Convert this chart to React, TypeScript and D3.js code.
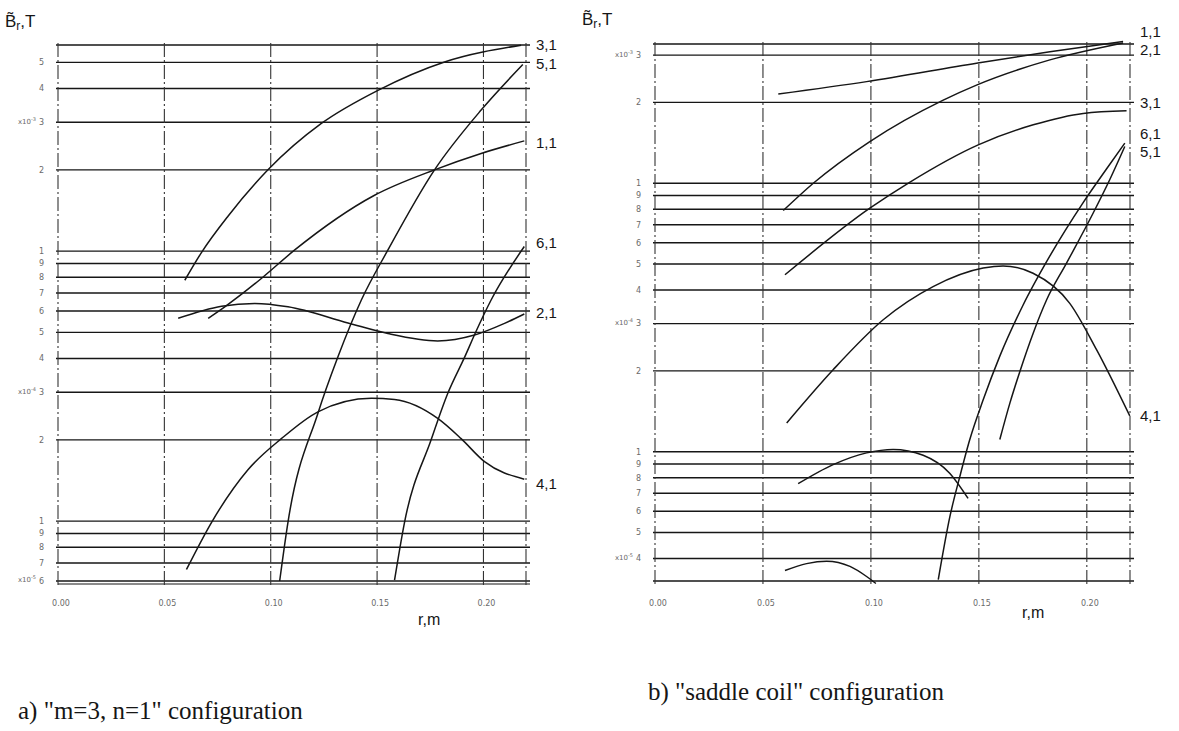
import React from 'react'
import * as d3 from 'd3'

const WIDTH = 1179
const HEIGHT = 731

type Pt = [number, number]

const rTicks = [0, 0.05, 0.1, 0.15, 0.2]
const rTickLabels = ['0.00', '0.05', '0.10', '0.15', '0.20']
const rEdge = 0.22

// ---- panel a) "m=3, n=1" configuration
const aDomain = [6e-5, 5.8e-3]
const aGrid = [5e-3, 4e-3, 3e-3, 2e-3, 1e-3, 9e-4, 8e-4, 7e-4, 6e-4, 5e-4, 4e-4, 3e-4, 2e-4, 1e-4, 9e-5, 8e-5, 7e-5, 6e-5]
const aPrefixed = [3e-3, 3e-4, 6e-5]
const aNames = ['3,1', '5,1', '1,1', '6,1', '2,1', '4,1']
const a31: Pt[] = [[0.0596, 7.8e-4], [0.0675, 9.9e-4], [0.08, 1.35e-3], [0.0987, 2.0e-3], [0.1238, 2.97e-3], [0.1504, 3.94e-3], [0.1817, 5.02e-3], [0.2177, 5.79e-3]]
const a51: Pt[] = [[0.1042, 6.0e-5], [0.1081, 9.9e-5], [0.1222, 2.51e-4], [0.1316, 4.06e-4], [0.1426, 6.59e-4], [0.1551, 1.01e-3], [0.177, 2.0e-3], [0.1989, 3.33e-3], [0.2185, 4.91e-3]]
const a11: Pt[] = [[0.0706, 5.64e-4], [0.0784, 6.22e-4], [0.0956, 7.92e-4], [0.1113, 1.01e-3], [0.1488, 1.61e-3], [0.177, 2.0e-3], [0.1989, 2.3e-3], [0.2192, 2.56e-3]]
const a61: Pt[] = [[0.1582, 6.04e-5], [0.1629, 9.9e-5], [0.1754, 2.0e-4], [0.1832, 2.97e-4], [0.1911, 4.04e-4], [0.1966, 5.06e-4], [0.2036, 6.59e-4], [0.2192, 1.04e-3]]
const a21: Pt[] = [[0.0565, 5.64e-4], [0.0769, 6.25e-4], [0.0925, 6.4e-4], [0.1081, 6.22e-4], [0.1363, 5.42e-4], [0.1551, 4.95e-4], [0.1785, 4.65e-4], [0.1958, 4.89e-4], [0.2099, 5.4e-4], [0.2192, 5.85e-4]]
const a41: Pt[] = [[0.0604, 6.62e-5], [0.0722, 9.9e-5], [0.0893, 1.55e-4], [0.105, 2.02e-4], [0.1222, 2.54e-4], [0.1473, 2.85e-4], [0.1582, 2.82e-4], [0.1785, 2.4e-4], [0.1895, 2.02e-4], [0.2005, 1.66e-4], [0.2192, 1.43e-4]]
const aCurves = [a31, a51, a11, a61, a21, a41]
const aLabelShift = [0, -1, 2, -4, -1, 5]

// ---- panel b) "saddle coil" configuration
const bDomain = [3.3e-5, 3.3e-3]
const bGrid = [3e-3, 2e-3, 1e-3, 9e-4, 8e-4, 7e-4, 6e-4, 5e-4, 4e-4, 3e-4, 2e-4, 1e-4, 9e-5, 8e-5, 7e-5, 6e-5, 5e-5, 4e-5]
const bPrefixed = [3e-3, 3e-4, 4e-5]
const bNames = ['1,1', '2,1', '3,1', '6,1', '5,1', '4,1', '', '']
const b11: Pt[] = [[0.0571, 2.15e-3], [0.098, 2.39e-3], [0.1489, 2.8e-3], [0.1829, 3.09e-3], [0.2168, 3.37e-3]]
const b21: Pt[] = [[0.0594, 7.91e-4], [0.0733, 1.0e-3], [0.0995, 1.43e-3], [0.1335, 2.04e-3], [0.1489, 2.32e-3], [0.1829, 2.88e-3], [0.2168, 3.33e-3]]
const b31: Pt[] = [[0.0602, 4.56e-4], [0.0995, 8.07e-4], [0.1181, 1.01e-3], [0.1497, 1.39e-3], [0.1752, 1.65e-3], [0.1983, 1.82e-3], [0.2184, 1.86e-3]]
const b61: Pt[] = [[0.1312, 3.34e-5], [0.1366, 5.74e-5], [0.1412, 8.09e-5], [0.1458, 1.11e-4], [0.152, 1.56e-4], [0.1597, 2.27e-4], [0.1705, 3.52e-4], [0.1829, 5.36e-4], [0.1983, 8.47e-4], [0.2091, 1.13e-3], [0.2176, 1.41e-3]]
const b51: Pt[] = [[0.1597, 1.11e-4], [0.1644, 1.52e-4], [0.169, 1.99e-4], [0.1752, 2.77e-4], [0.1814, 3.68e-4], [0.1906, 5.04e-4], [0.2029, 7.73e-4], [0.2106, 1.03e-3], [0.2176, 1.37e-3]]
const b41: Pt[] = [[0.061, 1.28e-4], [0.0825, 2.02e-4], [0.1057, 3.1e-4], [0.1288, 4.12e-4], [0.152, 4.83e-4], [0.1612, 4.92e-4], [0.1751, 4.62e-4], [0.1921, 3.57e-4], [0.2045, 2.4e-4], [0.2199, 1.36e-4]]
const bArcA: Pt[] = [[0.0663, 7.6e-5], [0.0825, 8.95e-5], [0.098, 9.9e-5], [0.1103, 1.02e-4], [0.1242, 9.7e-5], [0.1366, 8.3e-5], [0.145, 6.7e-5]]
const bArcB: Pt[] = [[0.0602, 3.61e-5], [0.0702, 3.83e-5], [0.0795, 3.91e-5], [0.0903, 3.74e-5], [0.098, 3.43e-5], [0.1023, 3.23e-5]]
const bCurves = [b11, b21, b31, b61, b51, b41, bArcA, bArcB]
const bLabelShift = [-10, 7, -8, -9, 5, 0, 0, 0]

const INK = '#161616'
const FAINT = '#6a6a6a'

function Panel({ left, right, bottom, top, domain, grid, prefixed, curves, names, shifts, titleX, titleY, rmX, rmY, doubleBottom }) {
  const x = d3.scaleLinear().domain([0, rEdge]).range([left, right])
  const y = d3.scaleLog().domain(domain).range([bottom, top])
  const line = d3.line<Pt>()
    .x(d => x(d[0]))
    .y(d => y(d[1]))
    .curve(d3.curveMonotoneX)

  const hLines = [domain[1], ...grid]
  if (!grid.includes(domain[0])) hLines.push(domain[0])
  const axisX = x(0)

  return (
    <g>
      {/* horizontal gridlines */}
      {hLines.map((v, i) => (
        <line key={'h' + i} x1={axisX - 2} x2={x(rEdge) + 4} y1={y(v)} y2={y(v)}
          stroke={INK} strokeWidth={1.4} />
      ))}
      {doubleBottom && (
        <line x1={axisX} x2={x(rEdge) + 4} y1={bottom + 3} y2={bottom + 3} stroke={INK} strokeWidth={1.2} />
      )}
      {/* vertical dash-dot lines */}
      {[...rTicks, rEdge].map((r, i) => (
        <line key={'v' + i} x1={x(r)} x2={x(r)} y1={top - 2} y2={bottom + 5}
          stroke="#333" strokeWidth={1.1} strokeDasharray="14,3,2,3" />
      ))}
      {/* y tick labels */}
      {grid.map((v, i) => {
        const exp = Math.floor(Math.log10(v) + 1e-9)
        const digit = Math.round(v / Math.pow(10, exp))
        return (
          <g key={'yl' + i} fill={FAINT} fontFamily="DejaVu Sans" fontSize={8}>
            <text x={axisX - 14} y={y(v)} dy="0.35em" textAnchor="end">{digit}</text>
            {prefixed.includes(v) && (
              <text x={axisX - 22} y={y(v)} dy="0.2em" textAnchor="end" fontSize={7}>
                x10<tspan dy="-3" fontSize={5}>{String(exp)}</tspan>
              </text>
            )}
          </g>
        )
      })}
      {/* x tick labels */}
      {rTicks.map((r, i) => (
        <text key={'xl' + i} x={x(r) + 3} y={bottom + 25} textAnchor="middle"
          fill={FAINT} fontFamily="DejaVu Sans" fontSize={8}>{rTickLabels[i]}</text>
      ))}
      <text x={rmX} y={rmY} fontFamily="Liberation Sans" fontSize={16} fill={INK}>r,m</text>
      {/* axis title */}
      <text x={titleX} y={titleY} fontFamily="Liberation Sans" fontSize={17} fill={INK}>
        {'B\u0303'}<tspan fontSize={12} dy="3">r</tspan><tspan dy="-3">,T</tspan>
      </text>
      {/* curves */}
      {curves.map((c, i) => (
        <path key={'c' + i} d={line(c) || ''} fill="none" stroke={INK} strokeWidth={1.5} />
      ))}
      {curves.map((c, i) => names[i] ? (
        <text key={'n' + i} x={x(rEdge) + 10} y={y(c[c.length - 1][1]) + shifts[i]} dy="0.35em"
          fontFamily="Liberation Sans" fontSize={15} fill={INK}>{names[i]}</text>
      ) : null)}
    </g>
  )
}

export default function App() {
  return (
    <svg width={WIDTH} height={HEIGHT} style={{ position: 'absolute', left: 0, top: 0, background: '#fff' }}>
      <rect width={WIDTH} height={HEIGHT} fill="#fff" />
      <Panel left={58} right={526} bottom={581} top={45} domain={aDomain} grid={aGrid}
        prefixed={aPrefixed} curves={aCurves} names={aNames} shifts={aLabelShift}
        titleX={5} titleY={27} rmX={418} rmY={625} doubleBottom={true} />
      <Panel left={655} right={1130} bottom={581} top={44} domain={bDomain} grid={bGrid}
        prefixed={bPrefixed} curves={bCurves} names={bNames} shifts={bLabelShift}
        titleX={582} titleY={25} rmX={1022} rmY={618} doubleBottom={false} />
      <text x={18} y={719} fontFamily="Liberation Serif" fontSize={25} fill={INK}>
        a) "m=3, n=1" configuration
      </text>
      <text x={648} y={700} fontFamily="Liberation Serif" fontSize={25} fill={INK}>
        b) "saddle coil" configuration
      </text>
    </svg>
  )
}
